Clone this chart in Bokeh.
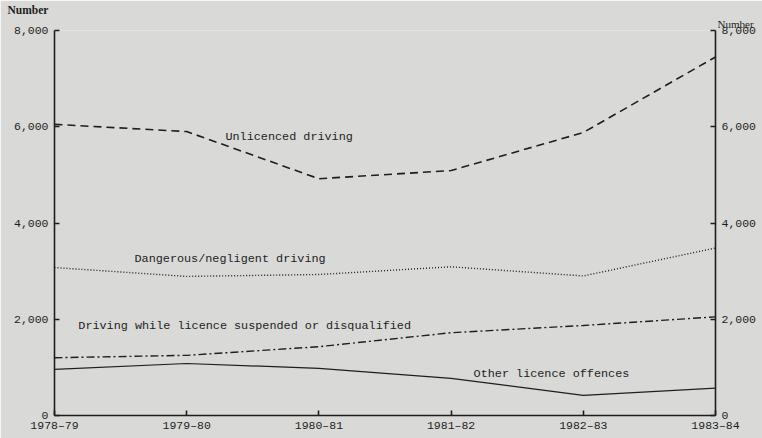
from bokeh.plotting import figure
from bokeh.models import LinearAxis, FixedTicker, Label, NumeralTickFormatter, Title
from bokeh.embed import file_html
from bokeh.resources import INLINE

years = ["1978-79", "1979-80", "1980-81", "1981-82", "1982-83", "1983-84"]
unlicenced = [6050, 5900, 4920, 5090, 5880, 7450]
dangerous = [3075, 2890, 2930, 3090, 2900, 3480]
suspended = [1200, 1250, 1430, 1720, 1870, 2050]
other = [960, 1080, 980, 770, 420, 570]
y_ticks = [0, 2000, 4000, 6000, 8000]

xs = list(range(len(years)))
FONT = "Liberation Mono"
BG = "#d9d9d7"
INK = "#1e1e1e"

p = figure(width=762, height=438, output_backend="svg", toolbar_location=None,
           x_range=(0, len(years) - 1), y_range=(0, 8000),
           min_border_left=54, min_border_right=47, min_border_top=30, min_border_bottom=23,
           background_fill_color=BG, border_fill_color=BG, y_axis_location=None)
p.outline_line_color = None
p.grid.visible = False

# left-hand unit label (outer row)
p.title.text = "Number"
p.title.align = "left"
p.title.offset = -47
p.title.standoff = 0
p.title.text_font = "Liberation Serif"
p.title.text_font_style = "bold"
p.title.text_font_size = "11.5px"
p.title.text_color = INK

# right-hand unit label (row nearest the frame)
p.add_layout(Title(text="Number", align="left", offset=663, standoff=1,
                   text_font="Liberation Serif", text_font_style="normal",
                   text_font_size="11px", text_color=INK), "above")

def style_axis(ax):
    ax.axis_line_color = INK
    ax.axis_line_width = 1.6
    ax.major_tick_line_color = INK
    ax.major_tick_line_width = 1.6
    ax.major_tick_in = 5
    ax.major_tick_out = 0
    ax.minor_tick_line_color = None
    ax.major_label_text_font = FONT
    ax.major_label_text_font_size = "11.5px"
    ax.major_label_text_color = INK

xa = p.xaxis[0]
style_axis(xa)
xa.ticker = FixedTicker(ticks=xs)
xa.major_label_overrides = {i: y.replace("-", "\u2013") for i, y in enumerate(years)}
xa.major_label_standoff = 3

for loc in ("left", "right"):
    ax = LinearAxis(ticker=FixedTicker(ticks=y_ticks), formatter=NumeralTickFormatter(format="0,0"))
    style_axis(ax)
    ax.major_label_standoff = 6
    p.add_layout(ax, loc)

p.line(xs, unlicenced, line_color=INK, line_width=1.6, line_dash="8 5")
p.line(xs, dangerous, line_color=INK, line_width=1.4, line_dash="1 2")
p.line(xs, suspended, line_color=INK, line_width=1.4, line_dash="8 3 2 3")
p.line(xs, other, line_color=INK, line_width=1.2)

labels = [
    ("Unlicenced driving", 1.293, 5794),
    ("Dangerous/negligent driving", 0.605, 3260),
    ("Driving while licence suspended or disqualified", 0.18, 1870),
    ("Other licence offences", 3.17, 872),
]
for txt, x, y in labels:
    p.add_layout(Label(x=x, y=y, text=txt, text_font=FONT, text_font_size="11.8px",
                       text_color=INK, text_baseline="middle", text_align="left"))

open("out.html", "w").write(file_html(p, INLINE))
